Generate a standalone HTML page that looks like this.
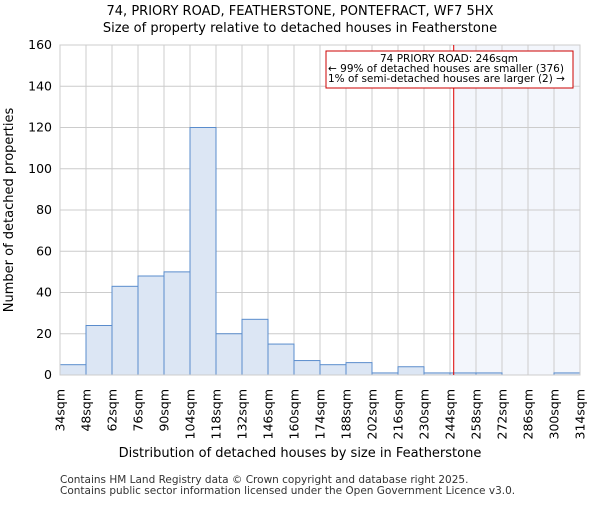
<!DOCTYPE html>
<html><head><meta charset="utf-8"><style>
body{margin:0;background:#fff;}
svg{font-family:"DejaVu Sans","Liberation Sans",sans-serif;}
</style></head><body>
<svg id="chart" width="600" height="500">
<text x="300" y="15" text-anchor="middle" font-size="13">74, PRIORY ROAD, FEATHERSTONE, PONTEFRACT, WF7 5HX</text>
<text x="300" y="32" text-anchor="middle" font-size="13">Size of property relative to detached houses in Featherstone</text>
<g id="plot"></g>
<text x="300" y="457" text-anchor="middle" font-size="13">Distribution of detached houses by size in Featherstone</text>
<text transform="translate(13,210) rotate(-90)" text-anchor="middle" font-size="13">Number of detached properties</text>
<text x="60" y="483" font-size="10.5" fill="#333">Contains HM Land Registry data © Crown copyright and database right 2025.</text>
<text x="60" y="494" font-size="10.5" fill="#333">Contains public sector information licensed under the Open Government Licence v3.0.</text>
</svg>
<script>
const binStarts=[34,48,62,76,90,104,118,132,146,160,174,188,202,216,230,244,258,272,286,300];
const counts=[5,24,43,48,50,120,20,27,15,7,5,6,1,4,1,1,1,0,0,1];
const xTickLabels=[34,48,62,76,90,104,118,132,146,160,174,188,202,216,230,244,258,272,286,300,314];
const yTicks=[0,20,40,60,80,100,120,140,160];
const markerValue=[246];
const NS="http://www.w3.org/2000/svg";
const L=60,R=580,T=45,B=375,xmin=34,xmax=314,ymax=160;
const xs=v=>L+(v-xmin)/(xmax-xmin)*(R-L);
const ys=v=>B-v/ymax*(B-T);
const g=document.getElementById('plot');
function mk(tag,a){const e=document.createElementNS(NS,tag);for(const k in a)e.setAttribute(k,a[k]);g.appendChild(e);return e;}
let e;
e=mk('rect',{x:xs(markerValue[0]),y:T,width:R-xs(markerValue[0]),height:B-T,fill:'#f3f6fc'});


xTickLabels.forEach(v=>{
 e=mk('line',{x1:xs(v),x2:xs(v),y1:T,y2:B,stroke:'#ccc','stroke-width':1});
 
 
 e=mk('text',{transform:`translate(${xs(v)+4.5},${B+14}) rotate(-90)`,'text-anchor':'end','font-size':12.5});
 e.textContent=v+'sqm';
 
 
});
yTicks.forEach(v=>{
 e=mk('line',{x1:L,x2:R,y1:ys(v),y2:ys(v),stroke:'#ccc','stroke-width':1});
 
 
 e=mk('text',{x:L-8,y:ys(v)+4,'text-anchor':'end','font-size':12.5});
 e.textContent=v;
 
 
});
counts.forEach((c,i)=>{
 if(c<=0)return;
 const x0=xs(binStarts[i]),x1=xs(binStarts[i]+14);
 e=mk('rect',{x:x0,y:ys(c),width:x1-x0,height:B-ys(c),fill:'#dce6f4',stroke:'#5a8ccc','stroke-width':1});
 
 
});
e=mk('rect',{x:L,y:T,width:R-L,height:B-T,fill:'none',stroke:'#ccc'});


e=mk('line',{x1:xs(markerValue[0]),x2:xs(markerValue[0]),y1:T,y2:B,stroke:'#dd0000','stroke-width':1});


e=mk('rect',{x:326,y:51,width:247,height:37,fill:'#fff',stroke:'#cc0000','stroke-width':1});


[['74 PRIORY ROAD: 246sqm',449,62,'middle'],['← 99% of detached houses are smaller (376)',328,72,'start'],['1% of semi-detached houses are larger (2) →',328,82,'start']].forEach(t=>{
 e=mk('text',{x:t[1],y:t[2],'text-anchor':t[3],'font-size':10.5});
 e.textContent=t[0];
 
 
});
</script>
</body></html>
